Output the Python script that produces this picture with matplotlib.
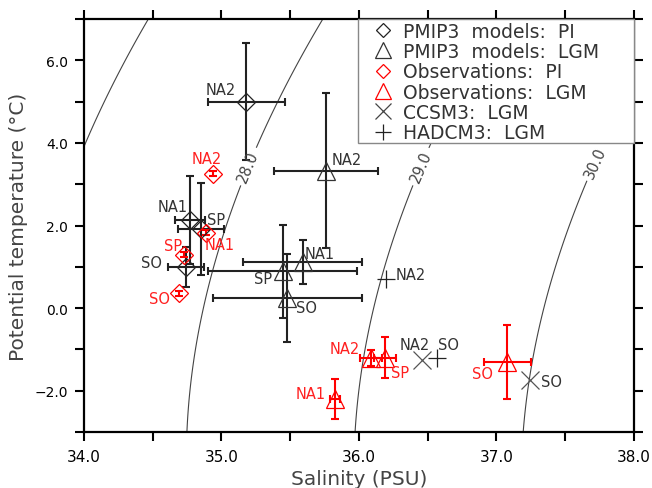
import numpy as np
import matplotlib
matplotlib.use("Agg")
import matplotlib.pyplot as plt
from matplotlib.lines import Line2D
from matplotlib.patches import Rectangle

plt.rcParams['font.family'] = ['DejaVu Sans']

# region labels
regions = ['NA2', 'NA1', 'SP', 'SO']

# PMIP3 models, pre-industrial (salinity, temperature, errors)
pi_mod_s = [35.18, 34.77, 34.85, 34.74]
pi_mod_t = [5.00, 2.14, 1.92, 1.00]
pi_mod_se = [0.28, 0.11, 0.165, 0.13]
pi_mod_te = [1.42, 1.07, 1.11, 0.49]

# PMIP3 models, LGM
lgm_mod_s = [35.76, 35.59, 35.445, 35.48]
lgm_mod_t = [3.33, 1.12, 0.89, 0.25]
lgm_mod_se = [0.38, 0.43, 0.54, 0.54]
lgm_mod_te = [1.87, 0.54, 1.12, 1.07]

# observations, pre-industrial
pi_obs_s = [34.94, 34.885, 34.73, 34.693]
pi_obs_t = [3.25, 1.82, 1.29, 0.36]
pi_obs_te = [0.06, 0.06, 0.06, 0.06]

# observations, LGM
lgm_obs_s = [36.085, 35.825, 36.19, 37.08]
lgm_obs_t = [-1.20, -2.20, -1.20, -1.30]
lgm_obs_se = [0.08, 0.036, 0.08, 0.17]
lgm_obs_te = [0.19, 0.48, 0.50, 0.90]

# single models, LGM
ccsm_regions = ['NA2', 'SO']
ccsm_s = [36.456, 37.244]
ccsm_t = [-1.25, -1.74]
hadcm_regions = ['NA2', 'SO']
hadcm_s = [36.20, 36.565]
hadcm_t = [0.70, -1.215]

# isopycnal levels (sigma-0)
plain_levels = [27.0]
labelled_levels = [28.0, 29.0, 30.0]


def sigma0(s, t):
    # UNESCO 1981 equation of state at surface pressure
    rw = (999.842594 + 6.793952e-2 * t - 9.095290e-3 * t**2
          + 1.001685e-4 * t**3 - 1.120083e-6 * t**4 + 6.536332e-9 * t**5)
    a = (8.24493e-1 - 4.0899e-3 * t + 7.6438e-5 * t**2
         - 8.2467e-7 * t**3 + 5.3875e-9 * t**4)
    b = -5.72466e-3 + 1.0227e-4 * t - 1.6546e-6 * t**2
    c = 4.8314e-4
    return rw + a * s + b * s**1.5 + c * s**2 - 1000.0


fig = plt.figure(figsize=(6.52, 4.89), dpi=100)
ax = fig.add_axes([0.1288, 0.1145, 0.8436, 0.8446])

# density contours
sg, tg = np.meshgrid(np.linspace(34, 38, 300), np.linspace(-3, 7, 300))
dens = sigma0(sg, tg)
ax.contour(sg, tg, dens, levels=plain_levels,
           colors='#444444', linewidths=0.8, zorder=1)
cs = ax.contour(sg, tg, dens, levels=labelled_levels,
                colors='#444444', linewidths=0.8, zorder=1)
ax.clabel(cs, fmt='%.1f', fontsize=10.5, inline=True, inline_spacing=4,
          colors='#444444', manual=[(35.18, 3.45), (36.44, 3.44), (37.72, 3.53)])

blk = '#222222'
red = '#ff0000'
ebk = dict(fmt='none', capsize=3, elinewidth=1.5, capthick=1.5, zorder=2)

ax.errorbar(pi_mod_s, pi_mod_t, xerr=pi_mod_se, yerr=pi_mod_te, ecolor=blk, **ebk)
ax.errorbar(lgm_mod_s, lgm_mod_t, xerr=lgm_mod_se, yerr=lgm_mod_te, ecolor=blk, **ebk)
ax.errorbar(pi_obs_s, pi_obs_t, yerr=pi_obs_te, ecolor=red, **ebk)
ax.errorbar(lgm_obs_s, lgm_obs_t, xerr=lgm_obs_se, yerr=lgm_obs_te, ecolor=red, **ebk)

mk = dict(ls='none', mfc='none', mew=0.9, zorder=3)
ax.plot(pi_mod_s, pi_mod_t, marker='D', ms=8.7, mec=blk, **mk)
ax.plot(lgm_mod_s, lgm_mod_t, marker='^', ms=12.7, mec='#333333', **mk)
ax.plot(pi_obs_s, pi_obs_t, marker='D', ms=8.7, mec=red, **mk)
ax.plot(lgm_obs_s, lgm_obs_t, marker='^', ms=12.7, mec=red, **mk)
ax.plot(ccsm_s, ccsm_t, marker='x', ms=13, mec='#555555', **mk)
ax.plot(hadcm_s, hadcm_t, marker='+', ms=12.5, mec=blk, **mk)

# point labels (offsets in points)
pi_mod_off = [(-18.5, 9), (-12.7, 9.4), (10.8, 6.7), (-24.3, 3.2)]
lgm_mod_off = [(15, 7.8), (12, 6.3), (-14.4, -5.5), (14, -6.9)]
pi_obs_off = [(-4.8, 10.8), (10.3, -8.6), (-7.9, 7), (-14.4, -3.6)]
lgm_obs_off = [(-18.5, 6.7), (-17.3, 3.6), (10.8, -10.8), (-18, -8.4)]
ccsm_off = [(-4.8, 11.3), (15.1, -1.2)]
hadcm_off = [(17.3, 3.1), (8.4, 9.8)]


def put_labels(names, xs, ys, offs, color):
    for n, x, y, o in zip(names, xs, ys, offs):
        ax.annotate(n, (x, y), xytext=o, textcoords='offset points',
                    ha='center', va='center', fontsize=10.5, color=color, zorder=4)


put_labels(regions, pi_mod_s, pi_mod_t, pi_mod_off, '#333333')
put_labels(regions, lgm_mod_s, lgm_mod_t, lgm_mod_off, '#333333')
put_labels(regions, pi_obs_s, pi_obs_t, pi_obs_off, '#ff2020')
put_labels(regions, lgm_obs_s, lgm_obs_t, lgm_obs_off, '#ff2020')
put_labels(ccsm_regions, ccsm_s, ccsm_t, ccsm_off, '#333333')
put_labels(hadcm_regions, hadcm_s, hadcm_t, hadcm_off, '#333333')

# axes
ax.set_xlim(34, 38)
ax.set_ylim(-3, 7)
xt = np.arange(34, 38.01, 0.5)
yt = np.arange(-3, 7.01, 1.0)
ax.set_xticks(xt)
ax.set_xticklabels(['%.1f' % v if v % 1 == 0 else '' for v in xt])
ax.set_yticks(yt)
ax.set_yticklabels([('%.1f' % v).replace('-', '\u2212') if v % 2 == 0 else ''
                    for v in yt])
ax.tick_params(axis='both', direction='out', length=6.5, width=1.5,
               top=True, right=True, color='black')
ax.tick_params(axis='x', labelsize=11, pad=6)
ax.tick_params(axis='y', labelsize=10, pad=5)
for sp in ax.spines.values():
    sp.set_linewidth(1.6)
ax.set_xlabel('Salinity (PSU)', fontsize=14.5, color='#444444', labelpad=3)
ax.set_ylabel('Potential temperature (°C)', fontsize=14.5, color='#444444', labelpad=5)

# legend box (white, grey edge) spanning to the top-right corner
ax.add_patch(Rectangle((0.498, 0.70), 0.502, 0.30, transform=ax.transAxes,
                       facecolor='white', edgecolor='#888888', lw=1.0,
                       zorder=4.5, clip_on=False))

handles = [
    Line2D([], [], ls='none', marker='D', ms=7.5, mfc='none', mec=blk, mew=0.9),
    Line2D([], [], ls='none', marker='^', ms=11, mfc='none', mec='#333333', mew=0.9),
    Line2D([], [], ls='none', marker='D', ms=7.5, mfc='none', mec=red, mew=0.9),
    Line2D([], [], ls='none', marker='^', ms=11, mfc='none', mec=red, mew=0.9),
    Line2D([], [], ls='none', marker='x', ms=11, mec='#444444', mew=0.9),
    Line2D([], [], ls='none', marker='+', ms=11, mec=blk, mew=0.9),
]
names = ['PMIP3  models:  PI', 'PMIP3  models:  LGM', 'Observations:  PI',
         'Observations:  LGM', 'CCSM3:  LGM', 'HADCM3:  LGM']
leg = ax.legend(handles, names, loc='upper left', bbox_to_anchor=(0.498, 1.0105),
                borderaxespad=0, fontsize=13.5, labelspacing=0.07,
                handlelength=1.92, handletextpad=0.1, borderpad=0.37,
                frameon=False)
for t in leg.get_texts():
    t.set_color('#333333')
leg.set_zorder(5)

fig.savefig('out.png', dpi=100)
